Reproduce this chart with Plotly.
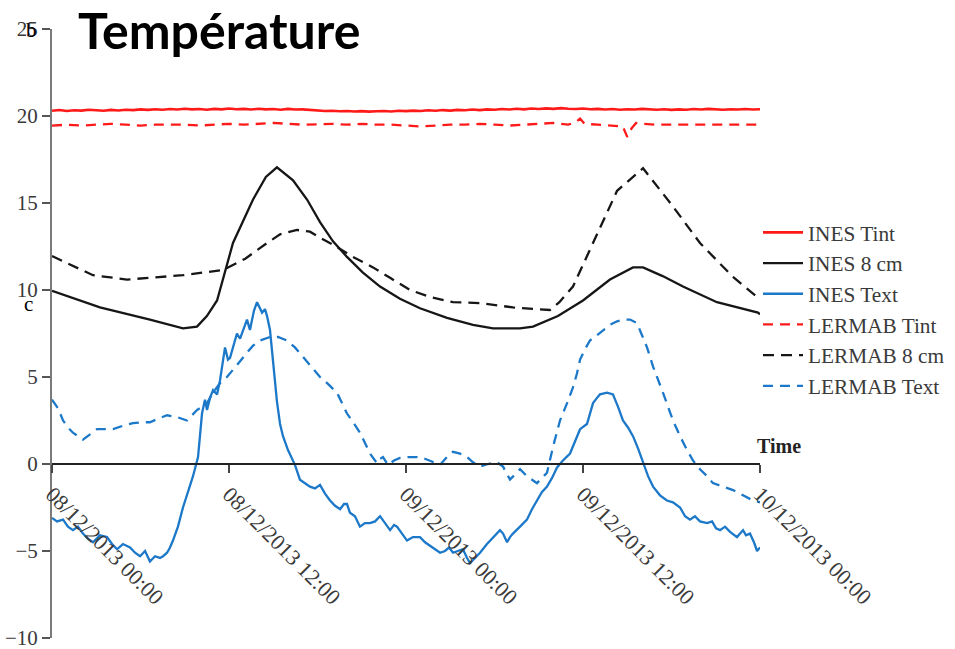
import pandas as pd
import plotly.graph_objects as go

# ---------------- data (hours after 08/12/2013 00:00, °C) ----------------
ines_tint_h = [i * 0.5 for i in range(97)]
ines_tint_v = [20.30, 20.34, 20.29, 20.33, 20.31, 20.36, 20.33, 20.30, 20.35, 20.32,
               20.36, 20.34, 20.38, 20.35, 20.39, 20.36, 20.40, 20.37, 20.42, 20.38,
               20.40, 20.36, 20.41, 20.38, 20.43, 20.39, 20.41, 20.37, 20.42, 20.38,
               20.40, 20.36, 20.41, 20.37, 20.38, 20.34, 20.32, 20.29, 20.30, 20.27,
               20.29, 20.26, 20.28, 20.25, 20.27, 20.29, 20.26, 20.30, 20.28, 20.31,
               20.29, 20.33, 20.30, 20.34, 20.31, 20.35, 20.33, 20.37, 20.34, 20.38,
               20.36, 20.40, 20.37, 20.42, 20.38, 20.43, 20.40, 20.44, 20.41, 20.45,
               20.42, 20.40, 20.43, 20.39, 20.41, 20.37, 20.40, 20.36, 20.39, 20.37,
               20.41, 20.38, 20.36, 20.39, 20.35, 20.38, 20.36, 20.40, 20.37, 20.41,
               20.38, 20.36, 20.39, 20.37, 20.40, 20.37, 20.39]

ines_8cm_h = [0, 3.25, 6.64, 8.88, 9.83, 10.5, 11.19, 12.27, 13.63, 14.5, 15.25, 16.34,
              17.29, 18.17, 19.05, 20.0, 21.08, 22.24, 23.59, 24.95, 26.78, 28.54, 29.9,
              31.73, 32.61, 34.3, 36.0, 37.83, 39.39, 40.07, 41.4, 42.78, 45.08, 47.86, 48]
ines_8cm_v = [9.95, 9.0, 8.3, 7.8, 7.9, 8.5, 9.4, 12.7, 15.2, 16.5, 17.05, 16.3,
              15.2, 13.9, 12.8, 11.9, 11.0, 10.2, 9.5, 8.95, 8.4, 8.0, 7.8,
              7.8, 7.9, 8.5, 9.4, 10.6, 11.3, 11.3, 10.8, 10.2, 9.3, 8.7, 8.6]

ines_text_h = [0, 0.34, 0.75, 1.08, 1.42, 1.76, 2.1, 2.44, 2.78, 3.25, 3.73, 4.07, 4.41,
               4.81, 5.29, 5.63, 5.97, 6.31, 6.64, 6.98, 7.32, 7.53, 7.8, 8.0, 8.2, 8.54,
               8.88, 9.22, 9.56, 9.9, 10.17, 10.37, 10.51, 10.71, 10.92, 11.19, 11.39,
               11.73, 11.93, 12.07, 12.34, 12.54, 12.75, 12.95, 13.22, 13.42, 13.69, 13.9,
               14.1, 14.24, 14.44, 14.58, 14.78, 14.98, 15.25, 15.46, 15.66, 16.0, 16.47,
               16.81, 17.15, 17.49, 17.83, 18.17, 18.51, 18.85, 19.19, 19.53, 19.8, 20.0,
               20.2, 20.54, 20.88, 21.22, 21.56, 21.9, 22.24, 22.58, 22.92, 23.19, 23.39,
               23.73, 24.07, 24.47, 24.95, 25.29, 25.63, 25.97, 26.31, 26.64, 26.92,
               27.19, 27.53, 27.86, 28.14, 28.34, 28.68, 29.02, 29.49, 29.9, 30.37, 30.58,
               30.85, 31.05, 31.25, 31.73, 32.2, 32.54, 32.88, 33.22, 33.56, 33.9, 34.24,
               34.64, 35.12, 35.46, 35.8, 36.27, 36.47, 36.68, 36.95, 37.15, 37.63, 38.03,
               38.37, 38.71, 39.05, 39.39, 39.73, 40.07, 40.41, 40.75, 41.22, 41.69, 42.1,
               42.58, 42.92, 43.25, 43.59, 43.93, 44.41, 44.75, 45.02, 45.29, 45.63, 45.97,
               46.44, 46.85, 47.05, 47.32, 47.59, 47.8, 48]
ines_text_v = [-3.1, -3.3, -3.2, -3.6, -3.8, -3.6, -4.0, -4.3, -4.5, -4.1, -4.2, -4.6, -4.9,
               -4.6, -4.8, -5.1, -5.3, -5.0, -5.6, -5.3, -5.4, -5.3, -5.1, -4.8, -4.4, -3.6,
               -2.5, -1.6, -0.7, 0.4, 2.9, 3.7, 3.1, 3.8, 4.25, 4.0, 4.8,
               6.7, 6.0, 6.1, 7.0, 7.5, 7.2, 7.7, 8.3, 7.7, 8.8, 9.3,
               8.9, 8.7, 8.9, 8.5, 7.7, 6.0, 3.6, 2.3, 1.6, 0.8, -0.05,
               -0.9, -1.1, -1.3, -1.4, -1.2, -1.7, -2.1, -2.4, -2.6, -2.3, -2.3,
               -2.8, -3.0, -3.6, -3.4, -3.4, -3.3, -3.0, -3.4, -3.8, -3.5, -3.6,
               -4.0, -4.4, -4.2, -4.2, -4.5, -4.7, -4.9, -5.1, -5.0, -4.8,
               -5.1, -5.0, -4.9, -5.4, -5.7, -5.4, -5.1, -4.6, -4.2, -3.8, -4.0,
               -4.5, -4.2, -4.0, -3.6, -3.2, -2.6, -2.1, -1.6, -1.3, -0.8, -0.2,
               0.2, 0.6, 1.3, 2.0, 2.3, 2.9, 3.5, 3.8, 4.0, 4.1, 4.0,
               3.3, 2.5, 2.1, 1.6, 0.9, 0.05, -0.7, -1.3, -1.8, -2.1, -2.2,
               -2.5, -3.0, -3.2, -3.0, -3.3, -3.4, -3.3, -3.7, -3.8, -3.6, -3.9,
               -4.2, -3.8, -4.1, -4.0, -4.5, -5.0, -4.8]

lermab_tint_h = [0, 1, 2, 3, 4, 5, 6, 7, 8, 9, 10, 11, 12, 13, 14, 15, 16, 17, 18, 19, 20,
                 21, 22, 23, 24, 25, 26, 27, 28, 29, 30, 31, 32, 33, 34, 35, 35.5, 35.8,
                 36.1, 37, 38, 38.7, 39.0, 39.3, 39.6, 40, 41, 42, 43, 44, 45, 46, 47, 48]
lermab_tint_v = [19.45, 19.5, 19.45, 19.5, 19.55, 19.5, 19.45, 19.5, 19.52, 19.5, 19.45,
                 19.5, 19.55, 19.5, 19.55, 19.6, 19.55, 19.5, 19.52, 19.55, 19.5, 19.55,
                 19.5, 19.5, 19.45, 19.4, 19.45, 19.5, 19.5, 19.55, 19.5, 19.45, 19.5,
                 19.55, 19.6, 19.5, 19.65, 19.85, 19.55, 19.5, 19.45, 19.4, 18.8, 19.3,
                 19.6, 19.55, 19.5, 19.5, 19.48, 19.5, 19.5, 19.48, 19.5, 19.5]

lermab_8cm_h = [0, 2.78, 5.08, 8.88, 11.59, 13.1, 14.58, 15.46, 16.61, 17.49, 18.17, 19.05,
                20.41, 21.76, 22.92, 24.27, 25.63, 27.19, 29.02, 31.25, 33.76, 34.4, 35.32,
                37.15, 38.31, 40.07, 42.1, 43.93, 46.17, 47.8, 48]
lermab_8cm_v = [11.95, 10.85, 10.6, 10.85, 11.15, 11.8, 12.7, 13.2, 13.45, 13.35, 13.0, 12.6,
                11.9, 11.3, 10.7, 10.0, 9.6, 9.3, 9.25, 9.0, 8.85, 9.3, 10.2,
                13.6, 15.7, 17.0, 14.8, 12.7, 10.75, 9.6, 9.5]

lermab_text_h = [0, 0.41, 0.75, 1.08, 1.42, 1.76, 2.1, 2.58, 3.05, 3.59, 4.14, 4.81, 5.49,
                 6.1, 6.64, 7.19, 7.8, 8.47, 9.15, 9.49, 9.83, 10.17, 10.51, 10.92, 11.39,
                 11.86, 12.27, 12.75, 13.22, 13.63, 14.1, 14.78, 15.32, 15.93, 16.47, 17.02,
                 17.56, 18.17, 18.71, 19.32, 19.66, 20.0, 20.41, 20.88, 21.22, 21.56, 22.03,
                 22.24, 22.44, 22.78, 23.19, 23.59, 24.14, 24.75, 25.29, 25.83, 26.31, 26.78,
                 27.19, 27.66, 28.14, 28.54, 29.02, 29.56, 30.17, 30.58, 31.05, 31.39, 31.73,
                 32.2, 32.88, 33.22, 33.56, 33.97, 34.44, 34.92, 35.32, 35.59, 35.8, 36.14,
                 36.47, 36.95, 37.36, 37.83, 38.31, 38.71, 39.19, 39.66, 40.0, 40.34, 40.75,
                 41.08, 41.42, 41.76, 42.1, 42.58, 43.05, 43.46, 43.93, 44.41, 44.81, 45.49,
                 46.17, 46.85, 47.53, 48]
lermab_text_v = [3.7, 3.2, 2.5, 2.1, 1.8, 1.6, 1.4, 1.7, 2.0, 2.0, 2.0, 2.2, 2.35,
                 2.4, 2.4, 2.6, 2.8, 2.7, 2.5, 2.8, 3.1, 3.3, 3.5, 4.1, 4.65,
                 5.0, 5.4, 5.9, 6.4, 6.8, 7.1, 7.3, 7.3, 7.1, 6.7, 6.15,
                 5.6, 5.0, 4.6, 4.1, 3.5, 2.9, 2.4, 1.8, 1.2, 0.6, 0.05,
                 0.3, 0.4, -0.05, 0.2, 0.35, 0.4, 0.4, 0.3, 0.1, -0.05, 0.4,
                 0.7, 0.6, 0.4, 0.1, -0.15, 0.0, 0.1, -0.15, -0.9, -0.6, -0.3,
                 -0.7, -1.1, -0.8, -0.5, 1.0, 2.5, 3.5, 4.4, 5.2, 6.0, 6.6,
                 7.1, 7.4, 7.7, 8.0, 8.2, 8.3, 8.3, 8.1, 7.4, 6.7, 5.6,
                 4.8, 4.1, 3.3, 2.5, 1.6, 0.8, 0.2, -0.3, -0.7, -1.1, -1.3,
                 -1.5, -1.8, -2.1, -2.2]

y_ticks = [-10, -5, 0, 5, 10, 15, 20, 25]
start = pd.Timestamp("2013-12-08 00:00")
end = pd.Timestamp("2013-12-10 00:00")


def to_time(hours):
    return start + pd.to_timedelta(hours, unit="h")


RED = "#ff1a1a"
BLACK = "#161616"
BLUE = "#1c78c8"

series = [
    ("INES Tint", ines_tint_h, ines_tint_v, RED, "solid", 2.6),
    ("INES 8 cm", ines_8cm_h, ines_8cm_v, BLACK, "solid", 2.3),
    ("INES Text", ines_text_h, ines_text_v, BLUE, "solid", 2.3),
    ("LERMAB Tint", lermab_tint_h, lermab_tint_v, RED, "10px,7px", 2.3),
    ("LERMAB 8 cm", lermab_8cm_h, lermab_8cm_v, BLACK, "11px,7px", 2.3),
    ("LERMAB Text", lermab_text_h, lermab_text_v, BLUE, "10px,7px", 2.3),
]

fig = go.Figure()
for name, h, v, color, dash, w in series:
    fig.add_trace(go.Scatter(
        x=to_time(h), y=v, mode="lines", name=name,
        line=dict(color=color, width=w, dash=dash),
        legendgroup=name,
    ))

serif = "Liberation Serif, Times New Roman, serif"

# layout geometry (pixels)
W, H = 955, 649
ML, MR, MT, MB = 52, 0, 29, 11
PW = W - ML - MR            # paper width
PLOT_RIGHT = 760


def px_x(px):
    return (px - ML) / PW


def px_y(py):
    return (H - MB - py) / (H - MT - MB)


fig.update_layout(
    width=W, height=H,
    margin=dict(l=ML, r=MR, t=MT, b=MB, autoexpand=False),
    paper_bgcolor="white", plot_bgcolor="white",
    showlegend=True,
    legend=dict(
        x=px_x(758), xanchor="left", y=px_y(212), yanchor="top",
        font=dict(family=serif, size=21.3, color="#3a3a3a"),
        tracegroupgap=0, bgcolor="rgba(0,0,0,0)", itemwidth=40,
    ),
    xaxis=dict(
        type="date", range=[start, end], domain=[0, px_x(PLOT_RIGHT)],
        anchor="free", position=10 / 35, automargin=False,
        tick0=start, dtick=12 * 3600 * 1000,
        tickformat="%d/%m/%Y %H:%M", tickangle=45,
        showline=True, linecolor="#222222", linewidth=1.5,
        ticks="outside", ticklen=8, tickcolor="#444444", tickwidth=1.5,
        showgrid=False, zeroline=False, ticklabeloverflow="allow",
        tickfont=dict(family=serif, size=22, color="#3a3a3a"),
    ),
    yaxis=dict(
        range=[-10, 25], tickvals=y_ticks, automargin=False,
        showline=True, linecolor="#7a7a7a", linewidth=2,
        ticks="outside", ticklen=8, tickcolor="#555555", tickwidth=1.5,
        showgrid=False, zeroline=False, ticklabeloverflow="allow",
        tickfont=dict(family=serif, size=21, color="#3a3a3a"),
        domain=[0, 1],
    ),
)

fig.add_annotation(
    text="<b>Température</b>", xref="paper", yref="paper",
    x=px_x(76), y=px_y(-2), xanchor="left", yanchor="top",
    showarrow=False, font=dict(family="Lato, Open Sans, sans-serif", size=50, color="black"),
)
fig.add_annotation(
    text="<b>Time</b>", xref="paper", yref="y",
    x=px_x(755), y=0.3, xanchor="left", yanchor="bottom",
    showarrow=False, font=dict(family=serif, size=20, color="#222222"),
)
fig.add_annotation(
    text="b", xref="paper", yref="paper", x=px_x(31), y=px_y(30), xanchor="center",
    yanchor="middle", showarrow=False, font=dict(family=serif, size=21, color="black"),
)
fig.add_annotation(
    text="c", xref="paper", yref="paper", x=px_x(28), y=px_y(304), xanchor="center",
    yanchor="middle", showarrow=False, font=dict(family=serif, size=21, color="black"),
)

fig.write_html("out.html")
